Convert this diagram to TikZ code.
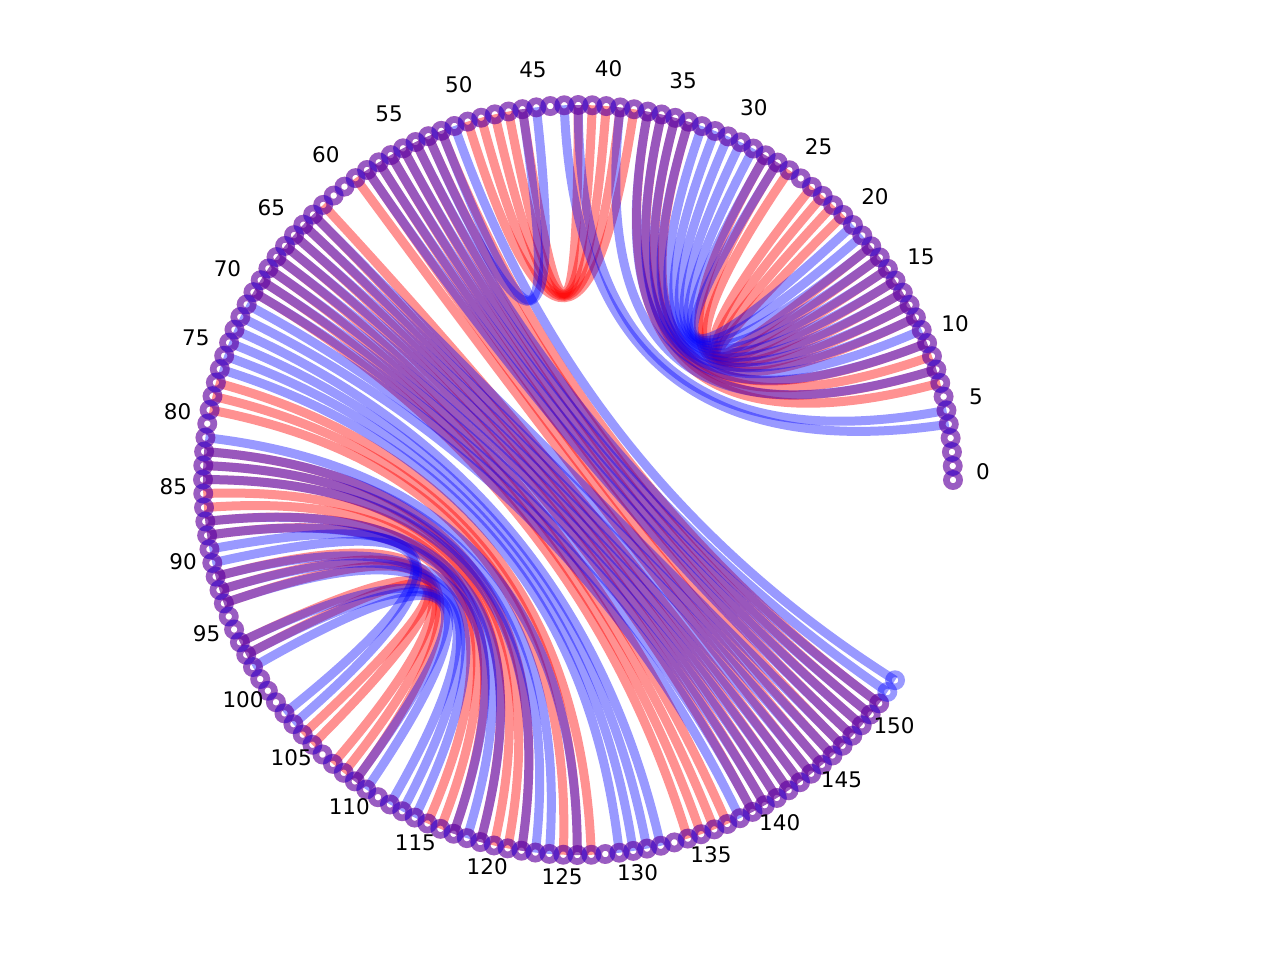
\documentclass[tikz,border=0pt]{standalone}
\usepackage{fontspec}
\setmainfont{DejaVu Sans}
\usetikzlibrary{calc}
\begin{document}
\begin{tikzpicture}[x=0.5pt,y=-0.5pt,
  redchord/.style={draw=red, draw opacity=0.43, line width=4.5pt},
  bluechord/.style={draw=blue, draw opacity=0.4, line width=4.5pt},
  ring/.style={circle, inner sep=0pt, outer sep=0pt, minimum size=6.6pt, line width=3.3pt},
  redring/.style={ring, draw=red, draw opacity=0.4},
  bluering/.style={ring, draw=blue, draw opacity=0.4},
  lab/.style={font=\fontsize{10.75}{12}\selectfont, inner sep=0pt}
]
\useasboundingbox (0,0) rectangle (1280,960);
\coordinate (c) at (578,480);
\foreach \i in {0,...,153}{
  \coordinate (p\i) at ({578+375*cos(\i*2.142)},{480-375*sin(\i*2.142)});
}
% red structure
\foreach \a/\b in {52/151,53/150,54/149,55/148,56/147,57/146,58/145,59/144,62/143,63/142,64/141,65/140,66/139,67/137,68/136,69/135,70/134,
  77/127,78/126,79/125,82/122,83/121,84/120,85/119,86/117,87/116,88/115,91/109,92/108,93/107,96/105,97/104,
  38/50,39/49,40/48,41/47,42/46,
  7/37,8/36,9/35,10/34,12/28,13/27,14/26,15/24,16/23,17/22,18/21}{
  \draw[redchord] (p\a) .. controls ($(p\a)!0.6667!(c)$) and ($(p\b)!0.6667!(c)$) .. (p\b);
}
% blue structure
\foreach \a/\b in {4/43,5/42,8/39,10/37,11/36,12/35,13/34,14/33,15/32,16/31,17/30,18/29,19/28,20/27,45/53,46/52,
  51/153,54/152,55/151,56/150,57/149,58/148,63/147,64/146,65/145,66/144,67/143,68/142,69/141,70/140,71/139,72/138,73/132,74/131,75/130,76/129,
  89/103,90/102,
  81/126,82/124,83/123,84/122,87/119,88/118,91/117,92/114,93/113,96/112,97/110,98/109}{
  \draw[bluechord] (p\a) .. controls ($(p\a)!0.6667!(c)$) and ($(p\b)!0.6667!(c)$) .. (p\b);
}
\foreach \i in {0,...,151}{
  \node[redring] (nr\i) at (p\i) {};
}
\foreach \i in {0,...,153}{
  \node[bluering] (nb\i) at (p\i) {};
}
\foreach \i in {0,5,...,150}{
  \node[lab] (l\i) at ({578+405*cos(\i*2.142)},{472-405*sin(\i*2.142)}) {\i};
}
\end{tikzpicture}
\end{document}
